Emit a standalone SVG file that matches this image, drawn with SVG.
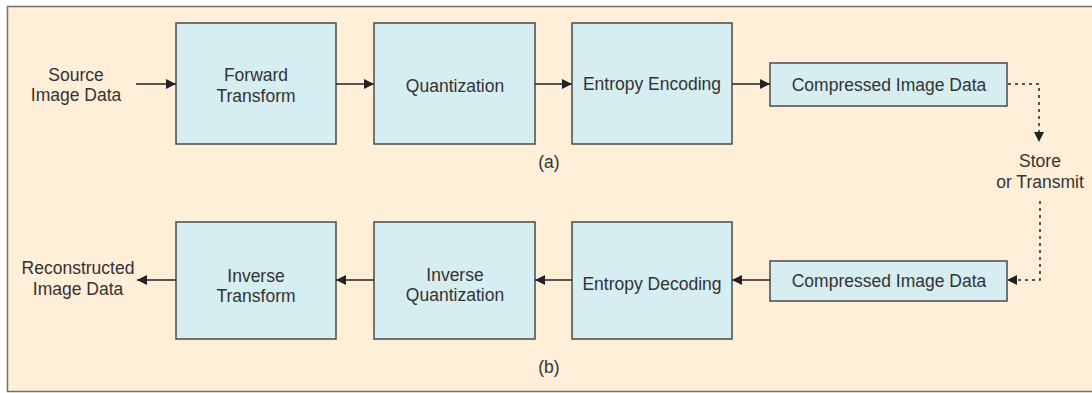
<svg xmlns="http://www.w3.org/2000/svg" width="1092" height="393" viewBox="0 0 1092 393">
<defs>
<style>
.box{fill:#d6edf1;stroke:#4a4a4a;stroke-width:1.5}
.t{font-family:"Liberation Sans",Arial,sans-serif;font-size:17.5px;fill:#333;text-anchor:middle}
.c{stroke:#222;stroke-width:1.5;fill:none}
.d{stroke:#222;stroke-width:1.5;fill:none;stroke-dasharray:3,4}
</style>
<marker id="ah" viewBox="0 0 10 10" refX="10" refY="5" markerWidth="10" markerHeight="10" markerUnits="userSpaceOnUse" orient="auto">
<path d="M0,0 L10,5 L0,10 Z" fill="#222"/>
</marker>
</defs>
<rect x="0" y="0" width="1092" height="393" fill="#ffffff"/>
<rect x="7.5" y="6.5" width="1100" height="385" fill="#ffeed8" stroke="#7a6e62" stroke-width="1.5"/>

<g id="source"><text class="t" x="76" y="81">Source</text><text class="t" x="76" y="101">Image Data</text></g>
<g id="fwd"><rect class="box" x="176" y="23" width="160" height="121"/><text class="t" x="256" y="81">Forward</text><text class="t" x="256" y="102">Transform</text></g>
<g id="quant"><rect class="box" x="374" y="23" width="161" height="121"/><text class="t" x="455" y="92">Quantization</text></g>
<g id="enc"><rect class="box" x="572" y="23" width="160" height="121"/><text class="t" x="652" y="90">Entropy Encoding</text></g>
<g id="comp1"><rect class="box" x="770" y="63" width="237" height="43"/><text class="t" x="889" y="91">Compressed Image Data</text></g>
<g id="labela"><text class="t" x="549" y="168">(a)</text></g>
<g id="store"><text class="t" x="1040" y="167">Store</text><text class="t" x="1040" y="188">or Transmit</text></g>

<g id="recon"><text class="t" x="78" y="274">Reconstructed</text><text class="t" x="78" y="295">Image Data</text></g>
<g id="inv"><rect class="box" x="176" y="222" width="160" height="117"/><text class="t" x="256" y="282">Inverse</text><text class="t" x="256" y="302">Transform</text></g>
<g id="iquant"><rect class="box" x="374" y="222" width="161" height="117"/><text class="t" x="455" y="281">Inverse</text><text class="t" x="455" y="301">Quantization</text></g>
<g id="dec"><rect class="box" x="572" y="222" width="160" height="117"/><text class="t" x="652" y="290">Entropy Decoding</text></g>
<g id="comp2"><rect class="box" x="770" y="261" width="237" height="40"/><text class="t" x="889" y="287">Compressed Image Data</text></g>
<g id="labelb"><text class="t" x="549" y="373">(b)</text></g>

<g id="connectors">
<line class="c" x1="136" y1="84" x2="176" y2="84" marker-end="url(#ah)"/>
<line class="c" x1="336" y1="84" x2="374" y2="84" marker-end="url(#ah)"/>
<line class="c" x1="535" y1="84" x2="572" y2="84" marker-end="url(#ah)"/>
<line class="c" x1="732" y1="84" x2="770" y2="84" marker-end="url(#ah)"/>
<path class="d" d="M1008,84 H1039 V142" marker-end="url(#ah)"/>
<path class="d" d="M1040,201 V280 H1007" marker-end="url(#ah)"/>
<line class="c" x1="770" y1="280" x2="732" y2="280" marker-end="url(#ah)"/>
<line class="c" x1="572" y1="280" x2="535" y2="280" marker-end="url(#ah)"/>
<line class="c" x1="374" y1="280" x2="336" y2="280" marker-end="url(#ah)"/>
<line class="c" x1="176" y1="280" x2="137" y2="280" marker-end="url(#ah)"/>
</g>
</svg>
